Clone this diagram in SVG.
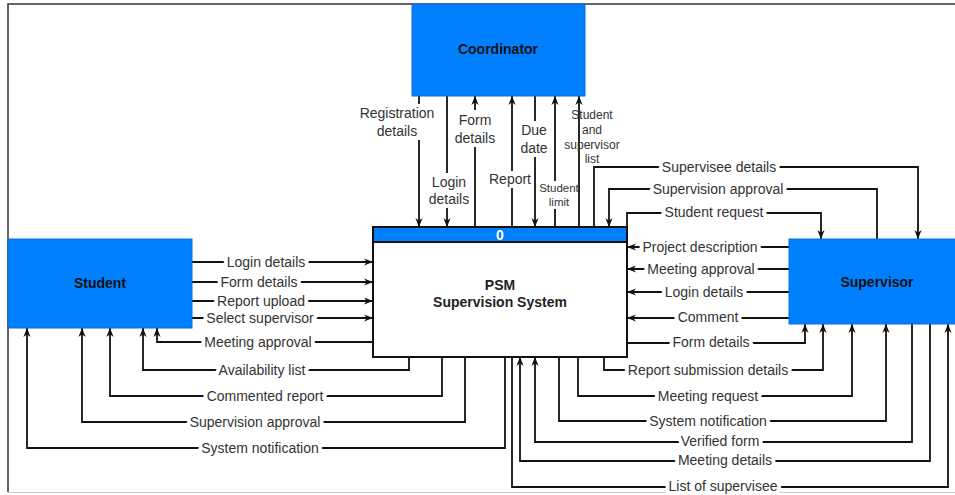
<svg xmlns="http://www.w3.org/2000/svg" width="955" height="495" viewBox="0 0 955 495">
  <style>
    .ent { fill: #0080ff; stroke: #0a6fd6; stroke-width: 1; }
    .ent-t { font-family: "Liberation Sans", Arial, sans-serif; font-size: 14px; font-weight: bold; fill: #111; text-anchor: middle; dominant-baseline: central; }
    .flow { fill: none; stroke: #111; stroke-width: 1.8; }
    .arr { marker-end: url(#head); }
    .lbl { font-family: "Liberation Sans", Arial, sans-serif; font-size: 14px; fill: #333; text-anchor: middle; dominant-baseline: central; paint-order: stroke; stroke: #fff; stroke-width: 8px; stroke-linejoin: round; }
    .nohalo { stroke: none; }
    .sm { font-size: 11.5px; }
    .sm2 { font-size: 12px; }
    .bg { fill: #fff; }
  </style>
  <defs>
    <marker id="head" viewBox="0 0 10 10" refX="10" refY="5" markerWidth="9" markerHeight="9" orient="auto" markerUnits="userSpaceOnUse">
      <path d="M0,1 L10,5 L0,9 L3,5 z" fill="#111"/>
    </marker>
  </defs>

  <!-- page frame -->
  <rect x="0" y="0" width="955" height="495" fill="#fff"/>
  <path d="M8,492 V4 H955" fill="none" stroke="#333" stroke-width="1.5"/>
  <path d="M8,492.5 H955" fill="none" stroke="#ccc" stroke-width="1"/>

  <!-- connectors -->
  <g id="connectors">
    <!-- coordinator <-> process -->
    <path class="flow arr" d="M419,96 V227"/>
    <path class="flow arr" d="M447,96 V227"/>
    <path class="flow arr" d="M475,227 V96"/>
    <path class="flow arr" d="M512,227 V96"/>
    <path class="flow arr" d="M535,96 V227"/>
    <path class="flow arr" d="M555,227 V96"/>
    <path class="flow arr" d="M579,227 V96"/>

    <!-- student -> process -->
    <path class="flow arr" d="M192,262 H373"/>
    <path class="flow arr" d="M192,282 H373"/>
    <path class="flow arr" d="M192,301 H373"/>
    <path class="flow arr" d="M192,318 H373"/>

    <!-- process -> student -->
    <path class="flow arr" d="M373,342 H157 V328"/>
    <path class="flow arr" d="M409,357 V370 H143 V328"/>
    <path class="flow arr" d="M442,357 V396 H110 V328"/>
    <path class="flow arr" d="M465,357 V422 H82 V328"/>
    <path class="flow arr" d="M505,357 V448 H27 V328"/>

    <!-- supervisor -> process -->
    <path class="flow arr" d="M789,247 H627"/>
    <path class="flow arr" d="M789,269 H627"/>
    <path class="flow arr" d="M789,292 H627"/>
    <path class="flow arr" d="M789,318 H627"/>
    <path class="flow arr" d="M877,239 V189 H609 V227"/>
    <path class="flow arr" d="M912,324 V442 H535 V357"/>
    <path class="flow arr" d="M930,324 V461 H520 V357"/>

    <!-- process -> supervisor -->
    <path class="flow arr" d="M594,227 V167 H918 V239"/>
    <path class="flow arr" d="M627,227 V213 H821 V239"/>
    <path class="flow arr" d="M627,343 H805 V324"/>
    <path class="flow arr" d="M604,357 V370 H823 V324"/>
    <path class="flow arr" d="M578,357 V396 H852 V324"/>
    <path class="flow arr" d="M559,357 V421 H886 V324"/>
    <path class="flow arr" d="M512,357 V487 H948 V324"/>

    <!-- flow labels -->
    <rect class="bg" x="358" y="104" width="78" height="36"/>
    <text class="lbl nohalo" x="397" y="113">Registration<tspan x="397" dy="18">details</tspan></text>
    <rect class="bg" x="425" y="173" width="48" height="35"/>
    <text class="lbl nohalo" x="449" y="182">Login<tspan x="449" dy="17">details</tspan></text>
    <rect class="bg" x="452" y="110" width="46" height="37"/>
    <text class="lbl nohalo" x="475" y="120">Form<tspan x="475" dy="18">details</tspan></text>
    <rect class="bg" x="488" y="171" width="45" height="17"/>
    <text class="lbl nohalo" x="510" y="179">Report</text>
    <rect class="bg" x="519" y="121" width="31" height="36"/>
    <text class="lbl nohalo" x="534" y="130">Due<tspan x="534" dy="18">date</tspan></text>
    <rect class="bg" x="539" y="181" width="38" height="28"/>
    <text class="lbl nohalo sm" x="559" y="188">Student<tspan x="559" dy="14">limit</tspan></text>
    <text class="lbl nohalo sm2" x="592" y="115">Student<tspan x="592" dy="15">and</tspan><tspan x="592" dy="15">supervisor</tspan><tspan x="592" dy="14">list</tspan></text>

    <text class="lbl" x="266" y="262">Login details</text>
    <text class="lbl" x="259" y="282">Form details</text>
    <text class="lbl" x="261" y="301">Report upload</text>
    <text class="lbl" x="260" y="318">Select supervisor</text>
    <text class="lbl" x="258" y="342">Meeting approval</text>
    <text class="lbl" x="262" y="370">Availability list</text>
    <text class="lbl" x="265" y="396">Commented report</text>
    <text class="lbl" x="255" y="422">Supervision approval</text>
    <text class="lbl" x="260" y="448">System notification</text>

    <text class="lbl" x="719" y="167">Supervisee details</text>
    <text class="lbl" x="718" y="189">Supervision approval</text>
    <text class="lbl" x="714" y="212">Student request</text>
    <text class="lbl" x="700" y="247">Project description</text>
    <text class="lbl" x="701" y="269">Meeting approval</text>
    <text class="lbl" x="704" y="292">Login details</text>
    <text class="lbl" x="708" y="317">Comment</text>
    <text class="lbl" x="711" y="342">Form details</text>
    <text class="lbl" x="708" y="370">Report submission details</text>
    <text class="lbl" x="708" y="396">Meeting request</text>
    <text class="lbl" x="708" y="421">System notification</text>
    <text class="lbl" x="720" y="441">Verified form</text>
    <text class="lbl" x="725" y="460">Meeting details</text>
    <text class="lbl" x="723" y="486">List of supervisee</text>
  </g>

  <!-- external entities -->
  <g id="coordinator">
    <rect class="ent" x="412" y="4" width="173" height="92"/>
    <text class="ent-t" x="498" y="49">Coordinator</text>
  </g>
  <g id="student">
    <rect class="ent" x="8" y="239" width="184" height="89"/>
    <text class="ent-t" x="100" y="283">Student</text>
  </g>
  <g id="supervisor">
    <rect class="ent" x="789" y="239" width="180" height="85"/>
    <text class="ent-t" x="877" y="282">Supervisor</text>
  </g>

  <!-- process 0 -->
  <g id="process">
    <rect x="373" y="227" width="254" height="130" fill="#fff" stroke="#111" stroke-width="2"/>
    <rect x="373" y="227" width="254" height="15" fill="#0080ff" stroke="#111" stroke-width="2"/>
    <text class="ent-t" x="500" y="235" style="fill:#fff">0</text>
    <text class="ent-t" x="500" y="285" style="fill:#222">PSM</text>
    <text class="ent-t" x="500" y="302" style="fill:#222">Supervision System</text>
  </g>
</svg>
